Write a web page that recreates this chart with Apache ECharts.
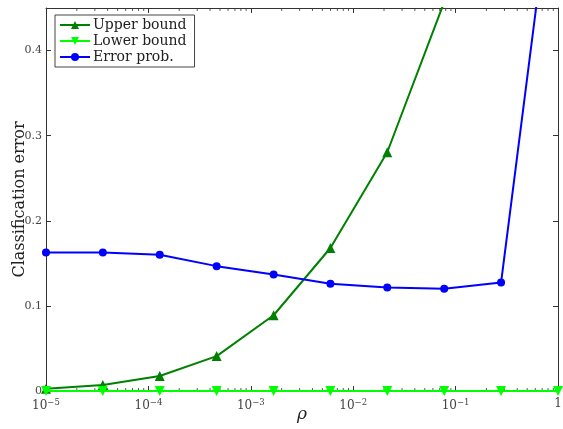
<!DOCTYPE html>
<html>
<head>
<meta charset="utf-8">
<script src="https://cdn.jsdelivr.net/npm/echarts@6/dist/echarts.min.js"></script>
<style>
html,body{margin:0;padding:0;background:#fff;}
#chart{width:563px;height:429px;}
</style>
</head>
<body>
<div id="chart"></div>
<script>
// ---- data ----
const rho = [1e-5, 3.59e-5, 1.29e-4, 4.64e-4, 1.67e-3, 5.99e-3, 2.15e-2, 7.74e-2, 2.78e-1, 1];
const upperBound = [0.0027, 0.007, 0.0176, 0.041, 0.089, 0.168, 0.2805, 0.457, 0.65, 0.80];
const lowerBound = [0, 0, 0, 0, 0, 0, 0, 0, 0, 0];
const errorProb = [0.1627, 0.1627, 0.160, 0.1467, 0.137, 0.126, 0.1216, 0.120, 0.1274, 0.652];
const seriesNames = ['Upper bound', 'Lower bound', 'Error prob.'];
const decades = [-5, -4, -3, -2, -1];

const FONT = 'DejaVu Serif';
const yMax = 0.45;

// minor tick positions (k * 10^n)
const minorX = [];
decades.forEach(n => { for (let k = 2; k <= 9; k++) minorX.push(k * Math.pow(10, n)); });
const minorBottom = minorX.map(x => [x, 0]);
const minorTop = minorX.map(x => [x, yMax]);

function pair(xs, ys) { return xs.map((x, i) => [x, ys[i]]); }

function xLabel(v) {
  const e = Math.round(Math.log10(v));
  if (e === 0) return '{b|1}';
  return '{b|10}{s|' + String(e).replace('-', '−') + '}';
}

const chart = echarts.init(document.getElementById('chart'), null, {renderer: 'canvas'});
const axisLineStyle = {color: '#333', width: 1};
chart.setOption({
  animation: false,
  backgroundColor: '#fff',
  textStyle: {fontFamily: FONT},
  grid: {left: 46, right: 5, top: 8, bottom: 38, containLabel: false, outerBoundsMode: 'none'},
  legend: {
    data: seriesNames,
    orient: 'vertical',
    left: 55, top: 15,
    backgroundColor: '#fff',
    borderColor: '#444', borderWidth: 1, borderRadius: 0,
    padding: [3, 8, 3, 4],
    itemGap: 2,
    itemWidth: 30, itemHeight: 10,
    textStyle: {fontFamily: FONT, fontSize: 14, color: '#222', padding: [0, 0, 0, -2]}
  },
  xAxis: [{
    type: 'log', logBase: 10, min: 1e-5, max: 1,
    position: 'bottom',
    name: 'ρ', nameLocation: 'middle', nameGap: 15, nameMoveOverlap: false,
    nameTextStyle: {fontFamily: FONT, fontSize: 17, fontStyle: 'italic', color: '#222', verticalAlign: 'top'},
    axisLine: {show: true, onZero: false, lineStyle: axisLineStyle},
    axisTick: {show: true, inside: true, length: 5, lineStyle: axisLineStyle},
    splitLine: {show: false},
    axisLabel: {
      margin: 7, color: '#444', formatter: xLabel,
      rich: {
        b: {fontFamily: FONT, fontSize: 12, color: '#444'},
        s: {fontFamily: FONT, fontSize: 8.5, color: '#444', padding: [0, 0, 7, 0]}
      }
    }
  }, {
    type: 'log', logBase: 10, min: 1e-5, max: 1,
    position: 'top',
    axisLine: {show: true, onZero: false, lineStyle: axisLineStyle},
    axisTick: {show: true, inside: true, length: 5, lineStyle: axisLineStyle},
    axisLabel: {show: false},
    splitLine: {show: false}
  }],
  yAxis: [{
    type: 'value', min: 0, max: yMax, interval: 0.1,
    position: 'left',
    name: 'Classification error', nameLocation: 'middle', nameGap: 18, nameRotate: 90, nameMoveOverlap: false,
    nameTextStyle: {fontFamily: FONT, fontSize: 16, color: '#222'},
    axisLine: {show: true, onZero: false, lineStyle: axisLineStyle},
    axisTick: {show: true, inside: true, length: 5, lineStyle: axisLineStyle},
    splitLine: {show: false},
    axisLabel: {
      margin: 4, fontFamily: FONT, fontSize: 11, color: '#444',
      formatter: v => {
        if (v > 0.42) return '';
        return v === 0 ? '0' : v.toFixed(1);
      }
    }
  }, {
    type: 'value', min: 0, max: yMax, interval: 0.1,
    position: 'right',
    axisLine: {show: true, onZero: false, lineStyle: axisLineStyle},
    axisTick: {show: true, inside: true, length: 5, lineStyle: axisLineStyle},
    axisLabel: {show: false},
    splitLine: {show: false}
  }],
  series: [
    {
      name: 'Upper bound', type: 'line', data: pair(rho, upperBound),
      color: '#008000',
      lineStyle: {width: 2, color: '#008000'},
      symbol: 'triangle', symbolSize: 10, showAllSymbol: true,
      itemStyle: {color: '#008000'}, clip: true, z: 3
    },
    {
      name: 'Lower bound', type: 'line', data: pair(rho, lowerBound),
      color: '#00ff00',
      lineStyle: {width: 2, color: '#00ff00'},
      symbol: 'triangle', symbolRotate: 180, symbolSize: 10, showAllSymbol: true,
      itemStyle: {color: '#00ff00'}, clip: false, z: 4
    },
    {
      name: 'Error prob.', type: 'line', data: pair(rho, errorProb),
      color: '#0000ff',
      lineStyle: {width: 2, color: '#0000ff'},
      symbol: 'circle', symbolSize: 8, showAllSymbol: true,
      itemStyle: {color: '#0000ff'}, clip: true, z: 3
    },
    {
      name: 'minorB', type: 'scatter', data: minorBottom, silent: true,
      symbol: 'rect', symbolSize: [1, 3], symbolOffset: [0, -1.5],
      itemStyle: {color: '#333'}, z: 1
    },
    {
      name: 'minorT', type: 'scatter', data: minorTop, silent: true,
      symbol: 'rect', symbolSize: [1, 3], symbolOffset: [0, 1.5],
      itemStyle: {color: '#333'}, z: 1
    }
  ]
});
</script>
</body>
</html>
